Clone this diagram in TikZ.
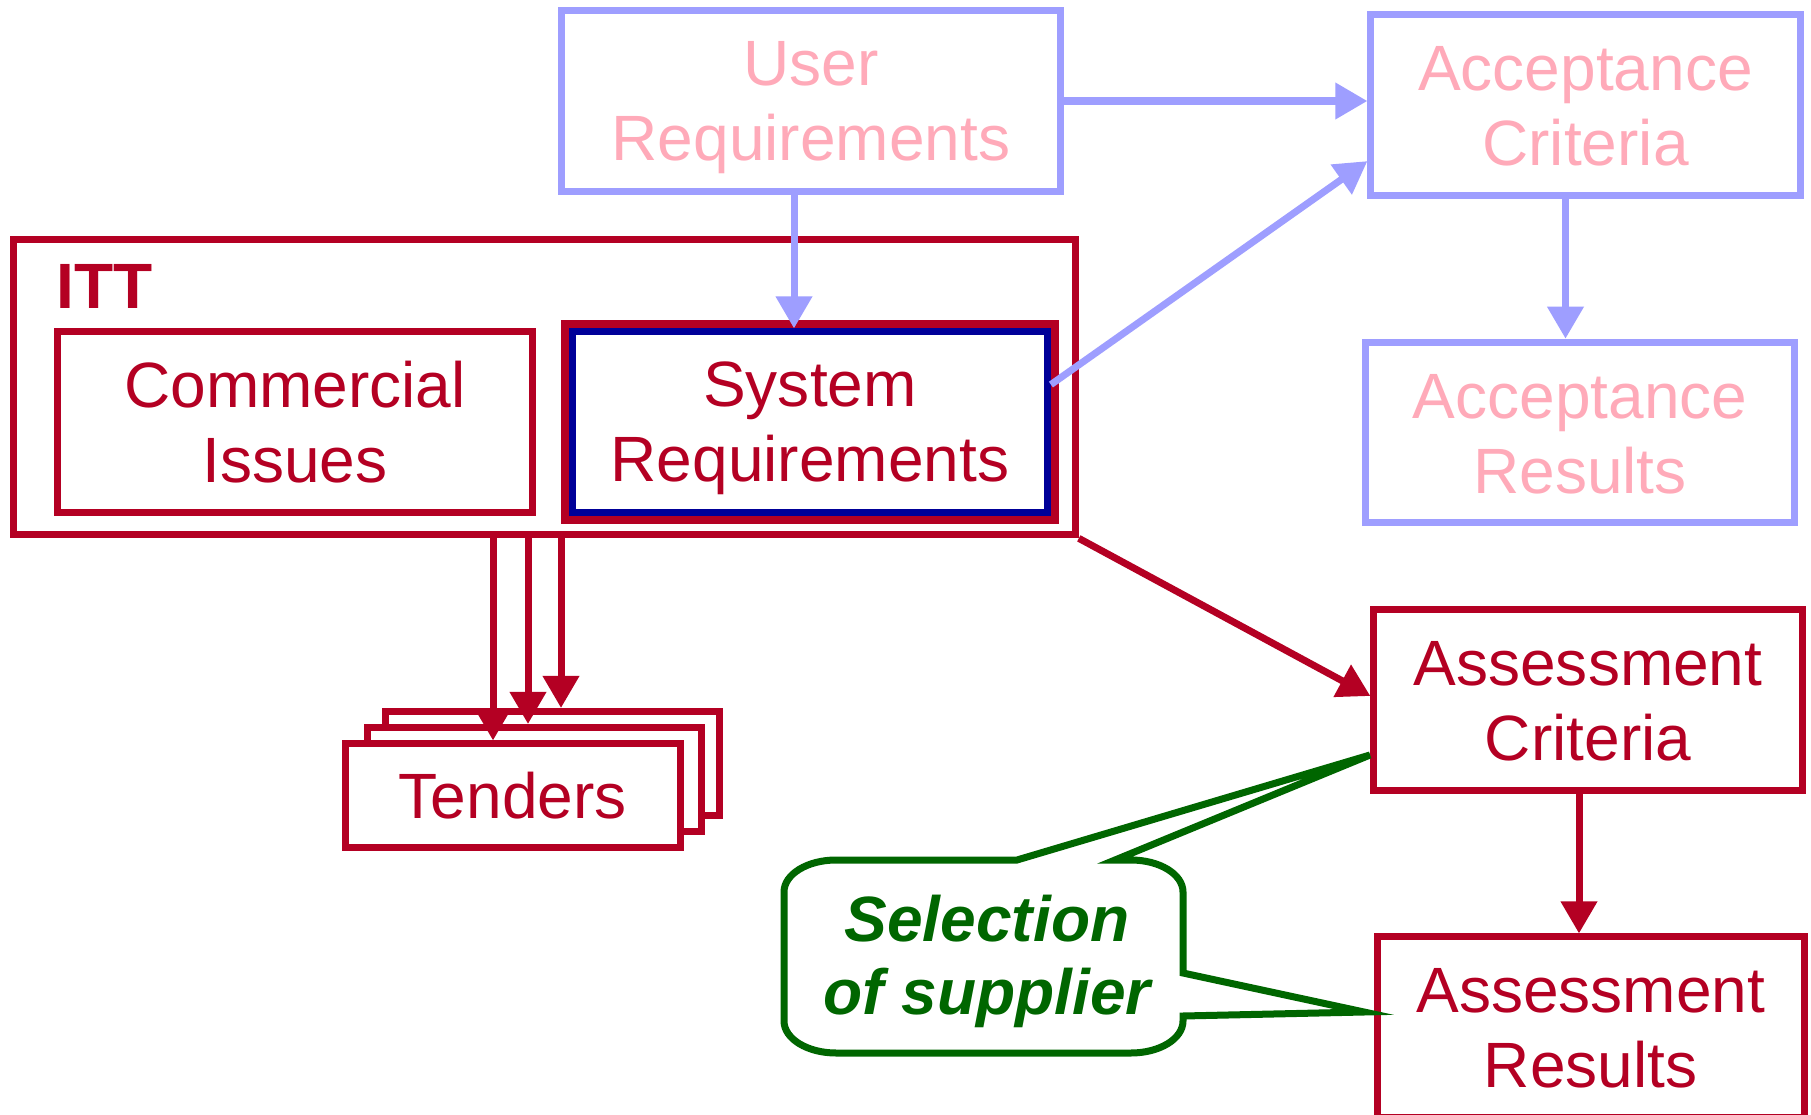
\documentclass[tikz,border=0pt]{standalone}
\usepackage{fontspec}
\setmainfont{Liberation Sans}
\usetikzlibrary{arrows.meta,calc}
\definecolor{lav}{RGB}{158,158,255}
\definecolor{pinkt}{RGB}{255,170,185}
\definecolor{dred}{RGB}{180,0,35}
\definecolor{navy}{RGB}{0,0,153}
\definecolor{dgreen}{RGB}{0,102,0}
\newcommand{\bigf}{\fontsize{18.21pt}{21.34pt}\selectfont}
\newcommand{\self}{\fontsize{18.21pt}{20.8pt}\selectfont\bfseries\itshape}
\newcommand{\sx}{\rule[-3pt]{0pt}{19.1pt}}
\begin{document}
\begin{tikzpicture}[x=0.01cm,y=-0.01cm,
  box/.style={draw, rectangle, line width=0.07cm, inner sep=0pt, align=center, font=\bigf},
  lbox/.style={box, draw=lav, text=pinkt},
  rbox/.style={box, draw=dred, text=dred},
  tip/.style={-{Triangle[length=0.32cm,width=0.35cm]}},
  larrow/.style={draw=lav, line width=0.07cm, tip},
  rarrow/.style={draw=dred, line width=0.07cm, tip},
  callout/.style={draw=dgreen, line width=0.07cm, fill=white, line join=miter}]
\useasboundingbox (0,0) rectangle (1811,1115);
\fill[white] (0,0) rectangle (1811,1115);
\begin{scope}
\clip (0,0) rectangle (1811,1115);
% top / acceptance
\node[lbox, minimum width=4.98cm, minimum height=1.81cm] (ur) at (811,101) {\sx User\\\sx Requirements};
\node[lbox, minimum width=4.29cm, minimum height=1.80cm] (ac) at (1585.5,105) {\sx Acceptance\\\sx Criteria};
\node[lbox, minimum width=4.285cm, minimum height=1.805cm] (ar) at (1580,432.5) {\sx Acceptance\\\sx Results};
% ITT
\node[rbox, minimum width=10.61cm, minimum height=2.955cm] (itt) at (544.5,387) {};
\node[font=\bigf\bfseries, text=dred, anchor=base west, inner sep=0pt] (ittl) at (56,308) {ITT};
\node[rbox, minimum width=4.755cm, minimum height=1.805cm] (ci) at (295,422) {\sx Commercial\\\sx Issues};
\node[rbox, line width=0.08cm, minimum width=4.895cm, minimum height=1.965cm] (srr) at (810,422) {};
\node[box, draw=navy, text=dred, minimum width=4.745cm, minimum height=1.80cm] (sr) at (810,422) {\sx System\\\sx Requirements};
% tenders
\node[rbox, fill=white, minimum width=3.345cm, minimum height=1.035cm] (t3) at (552.5,763.25) {};
\node[rbox, fill=white, minimum width=3.345cm, minimum height=1.035cm] (t2) at (534.5,779.25) {};
\node[rbox, fill=white, minimum width=3.345cm, minimum height=1.035cm] (t1) at (512.75,795.75) {\sx Tenders};
% assessment
\node[rbox, minimum width=4.28cm, minimum height=1.805cm] (asc) at (1588,699.75) {\sx Assessment\\\sx Criteria};
\node[rbox, minimum width=4.265cm, minimum height=1.805cm] (asr) at (1590.75,1027.25) {\sx Assessment\\\sx Results};
% helper coordinates
\coordinate (urx) at (794,0);
\coordinate (acx) at (1565.5,0);
\coordinate (ascx) at (1579,0);
\coordinate (c1) at (493,0);
\coordinate (c2) at (528,0);
\coordinate (c3) at (561,0);
\coordinate (p1) at (1370,755);
\coordinate (p2) at (1364,1012);
% arrows
\draw[larrow] (ur.east) -- (ur.east -| ac.west);
\draw[larrow] (ur.south -| urx) -- (sr.north -| urx);
\draw[larrow] ($(sr.north east)!0.3!(sr.south east)$) -- ($(ac.north west)!0.8!(ac.south west)$);
\draw[larrow] (ac.south -| acx) -- (ar.north -| acx);
\draw[rarrow] (itt.south east) -- ($(asc.north west)!0.48!(asc.south west)$);
\draw[rarrow] (asc.south -| ascx) -- (asr.north -| ascx);
\draw[rarrow] (itt.south -| c1) -- (t1.north -| c1);
\draw[rarrow] (itt.south -| c2) -- (t2.north -| c2);
\draw[rarrow] (itt.south -| c3) -- (t3.north -| c3);
% callout
\draw[callout] (836,860) -- (1017,860) -- (p1) -- (1115,860) -- (1131,860)
  .. controls (1159.7,860) and (1183,874.3) .. (1183,892)
  -- (1183,973) -- (p2) -- (1183,1016) -- (1183,1021)
  .. controls (1183,1038.7) and (1159.7,1053) .. (1131,1053)
  -- (836,1053)
  .. controls (807.3,1053) and (784,1038.7) .. (784,1021)
  -- (784,892)
  .. controls (784,874.3) and (807.3,860) .. (836,860) -- cycle;
\node[font=\self, text=dgreen, align=center, inner sep=0pt] (sel) at (987,956.5) {\sx Selection\\\sx of supplier};
\end{scope}
\end{tikzpicture}
\end{document}
